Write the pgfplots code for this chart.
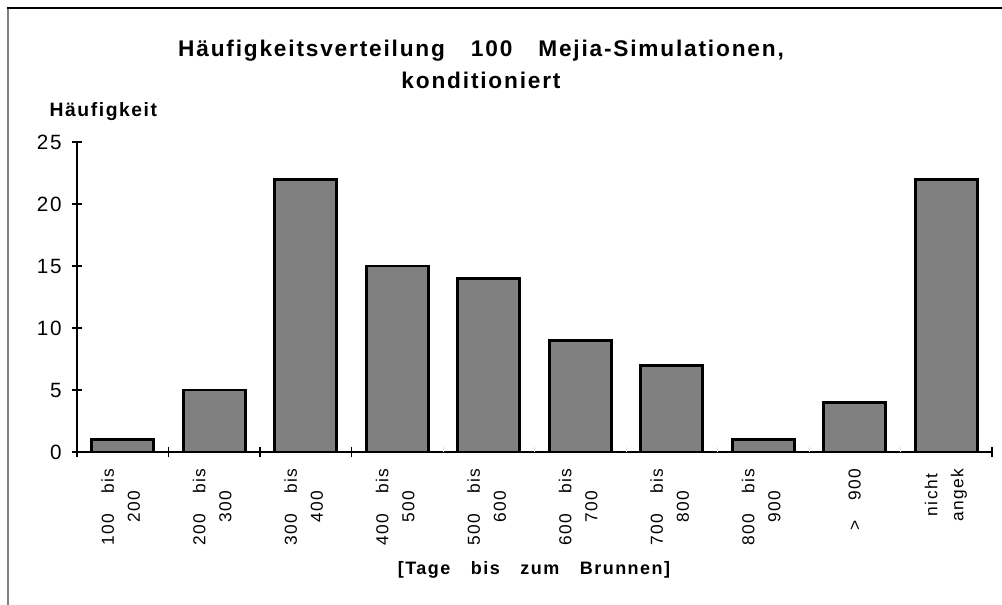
\documentclass[border=0pt]{standalone}
\usepackage{fontspec}
\setmainfont{Liberation Sans}
\newfontfamily\spc{Liberation Sans}[LetterSpace=8,WordSpace=3.2]
\usepackage{pgfplots}
\pgfplotsset{compat=1.18}
\definecolor{bargray}{HTML}{808080}
\newcommand\two[2]{\begin{tabular}{@{}c@{}}#1\\[4.5pt]#2\end{tabular}}
\begin{document}
\begin{tikzpicture}[x=0.75pt,y=0.75pt]
\path[use as bounding box] (0,0) rectangle (1002,605);
\draw[line width=1.5pt, bargray] (8,0) -- (8,597);
\draw[line width=1.2pt] (7,597) -- (1002,597);
\node[font=\spc\bfseries\fontsize{17}{24}\selectfont, align=center] at (481,541) {Häufigkeitsverteilung  100  Mejia-Simulationen,\\konditioniert};
\node[font=\spc\bfseries\fontsize{14.5}{16}\selectfont, anchor=west] at (45,493) {Häufigkeit};
\node[font=\spc\bfseries\fontsize{13.5}{16}\selectfont] at (534,35) {[Tage bis zum Brunnen]};
\begin{axis}[
  at={(57.75pt,114.75pt)}, anchor=south west, scale only axis,
  width=686.25pt, height=232.5pt,
  xmin=-0.5, xmax=9.5, ymin=0, ymax=25,
  axis x line=bottom, axis y line=left,
  axis line style={-, line width=0.8pt},
  tick align=center,
  major tick length=8pt, minor tick length=8pt,
  every tick/.style={black, line width=0.8pt},
  ytick={0,5,...,25},
  yticklabel style={font=\spc\fontsize{15.5}{17}\selectfont, xshift=-4pt},
  /pgf/number format/assume math mode=true,
  xtick={0,...,9},
  major x tick style={draw=none},
  minor xtick={-0.5,0.5,1.5,2.5,9.5},
  extra x ticks={3.5,4.5,5.5,6.5,7.5,8.5},
  extra x tick labels={},
  extra x tick style={major x tick style={draw=gray!25, line width=0.5pt}, tick align=inside, major tick length=4pt},
  xticklabels={\two{100 bis}{200},\two{200 bis}{300},\two{300 bis}{400},\two{400 bis}{500},\two{500 bis}{600},\two{600 bis}{700},\two{700 bis}{800},\two{800 bis}{900},{> 900},\two{nicht}{angek}},
  xticklabel style={rotate=90, anchor=east, font=\spc\fontsize{13}{15}\selectfont, xshift=-5pt},
  clip=false,
]
\addplot[ybar, bar width=46.5pt, fill=bargray, draw=black, line width=2pt] coordinates {
(0,1) (1,5) (2,22) (3,15) (4,14) (5,9) (6,7) (7,1) (8,4) (9,22)
};
\end{axis}
\end{tikzpicture}
\end{document}
